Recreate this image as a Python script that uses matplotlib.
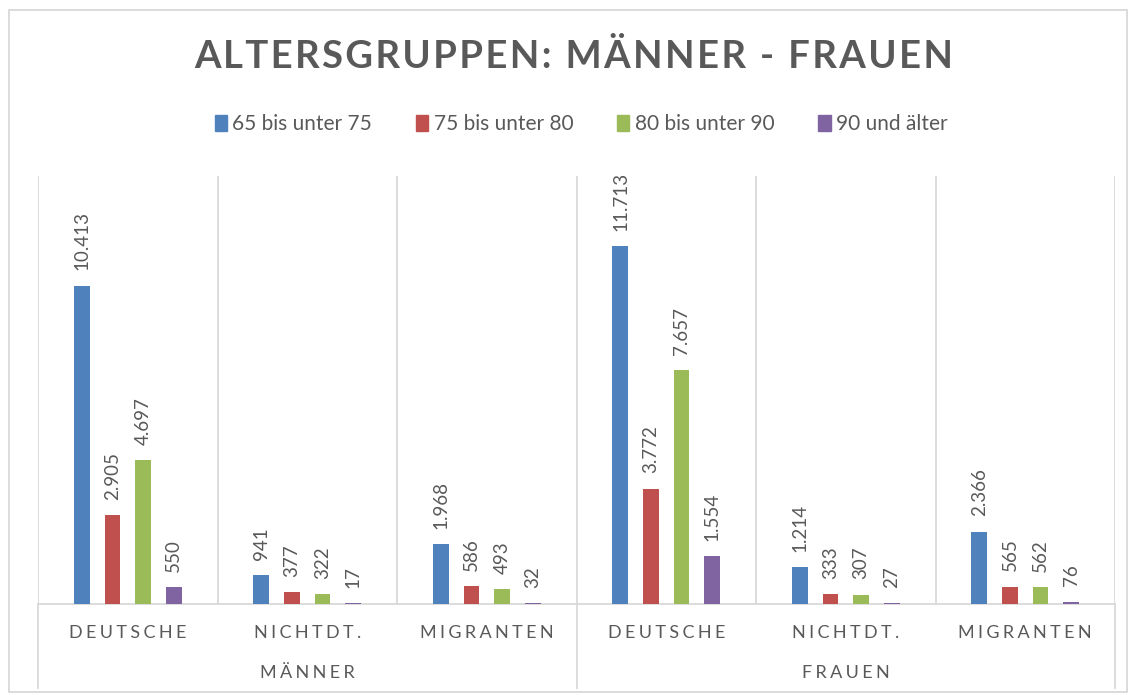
import numpy as np
import matplotlib.pyplot as plt
from matplotlib.patches import Patch, Rectangle
from matplotlib.lines import Line2D
from matplotlib.transforms import blended_transform_factory

# data
categories = ["DEUTSCHE", "NICHTDT.", "MIGRANTEN", "DEUTSCHE", "NICHTDT.", "MIGRANTEN"]
groups = ["MÄNNER", "FRAUEN"]
series = ["65 bis unter 75", "75 bis unter 80", "80 bis unter 90", "90 und älter"]
v65_75 = [10413, 941, 1968, 11713, 1214, 2366]
v75_80 = [2905, 377, 586, 3772, 333, 565]
v80_90 = [4697, 322, 493, 7657, 307, 562]
v90 = [550, 17, 32, 1554, 27, 76]
values = [v65_75, v75_80, v80_90, v90]
colors = ["#4F81BD", "#C0504D", "#9BBB59", "#8064A2"]

grey = "#595959"
line_c = "#D9D9D9"
fam = ["Lato", "DejaVu Sans"]
plt.rcParams["font.family"] = fam


def spaced(s, sep="\u2009"):
    return sep.join(s)


def de_fmt(v):
    return f"{v:,}".replace(",", ".")


W, H = 1130, 695
fig = plt.figure(figsize=(W / 100, H / 100), dpi=100)
ax = fig.add_axes([38 / W, 1 - 604 / H, (1115 - 38) / W, (604 - 176) / H])

x = np.arange(len(categories))
step = 0.17
bw = 0.089
for i, (vals, c) in enumerate(zip(values, colors)):
    xs = x + (i - 1.5) * step
    bars = ax.bar(xs, vals, width=bw, color=c, zorder=3)
    for b, v in zip(bars, vals):
        ax.annotate(de_fmt(v), (b.get_x() + b.get_width() / 2, b.get_height()),
                    xytext=(0, 11), textcoords="offset points", rotation=90,
                    ha="center", va="bottom", color=grey, fontsize=13.5)

ax.set_xlim(-0.5, len(categories) - 0.5)
ax.set_ylim(0, 14000)
ax.set_yticks([])
for s in ["left", "right", "top"]:
    ax.spines[s].set_visible(False)
ax.spines["bottom"].set_color(line_c)
ax.spines["bottom"].set_linewidth(1.3)
for b in np.arange(-0.5, len(categories), 1.0):
    ax.axvline(b, color=line_c, lw=1.3, zorder=1)

ax.set_xticks(x)
ax.set_xticklabels([spaced(c, "\u2009\u200a") for c in categories], color=grey, fontsize=13)
ax.tick_params(axis="x", length=0, pad=15)

# group labels and extended separators
trans = blended_transform_factory(ax.transData, fig.transFigure)
for gi, g in enumerate(groups):
    ax.text(gi * 3 + 1, 1 - 673 / H, spaced(g, "\u2009\u200a"), transform=trans,
            ha="center", va="center", color=grey, fontsize=13)
for b in [-0.5, 2.5, 5.5]:
    fig.add_artist(Line2D([b, b], [1 - 604 / H, 1 - 688 / H], transform=trans,
                          color=line_c, lw=1.3))

# chart border
fig.add_artist(Rectangle((9 / W, 1 - 692 / H), (1127 - 9) / W, (692 - 10) / H,
                         transform=fig.transFigure, fill=False, ec=line_c, lw=1.3))

fig.text(574 / W, 1 - 56 / H, spaced("ALTERSGRUPPEN: MÄNNER - FRAUEN", "\u200a"),
         ha="center", va="center", fontsize=27.5, fontweight="bold", color=grey)

handles = [Patch(color=c) for c in colors]
fig.legend(handles, series, loc="center", bbox_to_anchor=(581 / W, 1 - 124 / H),
           ncol=4, frameon=False, handlelength=0.6, handleheight=0.8,
           handletextpad=0.25, columnspacing=2.1, fontsize=15, labelcolor=grey)

fig.savefig("out.png", dpi=100)
